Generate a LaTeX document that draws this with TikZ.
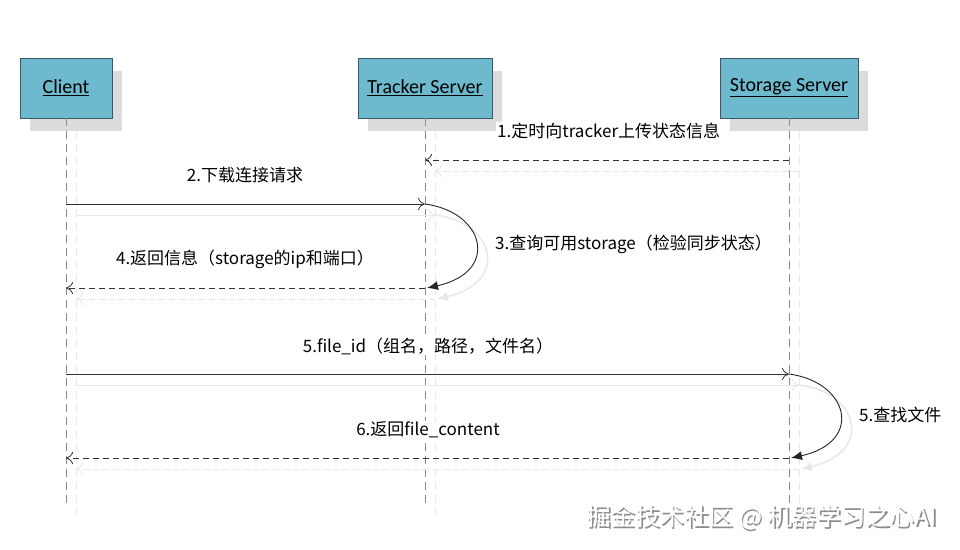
\documentclass[tikz,border=0pt]{standalone}
\usepackage{fontspec}
\setmainfont{Noto Sans CJK SC}
\newfontfamily\titlefont{Carlito}
\usetikzlibrary{arrows.meta}
\definecolor{boxfill}{HTML}{6DB9CE}
\definecolor{boxdraw}{HTML}{3C5866}
\definecolor{shadowc}{HTML}{DCDCDC}
\definecolor{lifec}{HTML}{8A8A8A}
\definecolor{shline}{HTML}{E8E8E8}
\tikzset{
  actor/.style={draw=boxdraw, fill=boxfill, line width=0.9pt, minimum height=60pt, inner sep=0pt, font=\titlefont\fontsize{20}{20}\selectfont},
  actorshadow/.style={fill=shadowc, draw=none},
  life/.style={draw=lifec, line width=1pt, dash pattern=on 8pt off 5pt},
  lifesh/.style={draw=shline, line width=1pt, dash pattern=on 8pt off 5pt},
  msg/.style={draw=black!80, line width=0.8pt, -{To[length=7pt,width=12pt]}},
  reply/.style={msg, dash pattern=on 6pt off 4pt},
  msgsh/.style={draw=shline, line width=1pt, -{To[length=7pt,width=12pt]}},
  replysh/.style={msgsh, dash pattern=on 6pt off 4pt},
  selfm/.style={draw=black!85, line width=0.9pt, -{Latex[length=11pt,width=9pt]}},
  selfsh/.style={draw=shline, line width=1.5pt, -{Latex[length=11pt,width=9pt]}},
  lbl/.style={fill=white, inner sep=1pt, font=\fontsize{17}{18}\selectfont},
  wm/.style={font=\fontsize{24.5}{25}\selectfont, anchor=west}
}
\begin{document}
\begin{tikzpicture}[x=1pt,y=-1pt]
\useasboundingbox (0,0) rectangle (960,549);
% shadows of actors
\fill[actorshadow] (30,71) rectangle (122,131);
\fill[actorshadow] (368,71) rectangle (502,131);
\fill[actorshadow] (730,71) rectangle (868,131);
% actors
\node[actor, minimum width=92pt] (client) at (66,88) {\underline{Client}};
\node[actor, minimum width=134pt] (tracker) at (425,88) {\underline{Tracker Server}};
\node[actor, minimum width=138pt] (storage) at (789,88) {\underline{Storage Server}};
% lifeline coordinates
\coordinate (cB) at (66,505);
\coordinate (tB) at (425,505);
\coordinate (sB) at (789,505);
\coordinate (cS) at (76,131); \coordinate (cSB) at (76,515);
\coordinate (tS) at (435,131); \coordinate (tSB) at (435,515);
\coordinate (sS) at (799,131); \coordinate (sSB) at (799,515);
% shadow lifelines
\draw[lifesh] (cS) -- (cSB);
\draw[lifesh] (tS) -- (tSB);
\draw[lifesh] (sS) -- (sSB);
% lifelines
\draw[life] (client.south) -- (cB);
\draw[life] (tracker.south) -- (tB);
\draw[life] (storage.south) -- (sB);
% message coordinates
\coordinate (m1s) at (789,160); \coordinate (m1e) at (425,160);
\coordinate (m2s) at (66,204); \coordinate (m2e) at (425,204);
\coordinate (m4s) at (425,288); \coordinate (m4e) at (66,288);
\coordinate (m5s) at (66,374); \coordinate (m5e) at (789,374);
\coordinate (m6s) at (789,458); \coordinate (m6e) at (66,458);
\coordinate (m3e) at (427,288);
\coordinate (m5be) at (791,458);
% shadow messages
\draw[replysh] (799,171) -- (435,171);
\draw[msgsh] (76,215) -- (435,215);
\draw[replysh] (435,299) -- (76,299);
\draw[msgsh] (76,385) -- (799,385);
\draw[replysh] (799,469) -- (76,469);
\draw[selfsh] (435,215) .. controls (495,222) and (510,282) .. (437,299);
\draw[selfsh] (799,385) .. controls (859,392) and (874,452) .. (801,469);
% messages
\draw[reply] (m1s) -- (m1e);
\draw[msg] (m2s) -- (m2e);
\draw[selfm] (m2e) .. controls (485,212) and (500,272) .. (m3e);
\draw[reply] (m4s) -- (m4e);
\draw[msg] (m5s) -- (m5e);
\draw[selfm] (m5e) .. controls (849,382) and (864,442) .. (m5be);
\draw[reply] (m6s) -- (m6e);
% labels
\node[lbl, anchor=west] (l1) at (496,131) {1.定时向tracker上传状态信息};
\node[lbl] (l2) at (245,175) {2.下载连接请求};
\node[lbl, anchor=west] (l3) at (494,244) {3.查询可用storage（检验同步状态）};
\node[lbl] (l4) at (245,259) {4.返回信息（storage的ip和端口）};
\node[lbl] (l5) at (428,346) {5.file\_id（组名，路径，文件名）};
\node[lbl, anchor=west] (l5b) at (858,415) {5.查找文件};
\node[lbl] (l6) at (428,430) {6.返回file\_content};
% watermark
\node[wm, text=black!45] (wmsh) at (584.8,518.8) {掘金技术社区 @ 机器学习之心AI};
\node[wm, text=white] (wmk) at (583,517) {掘金技术社区 @ 机器学习之心AI};
\end{tikzpicture}
\end{document}
